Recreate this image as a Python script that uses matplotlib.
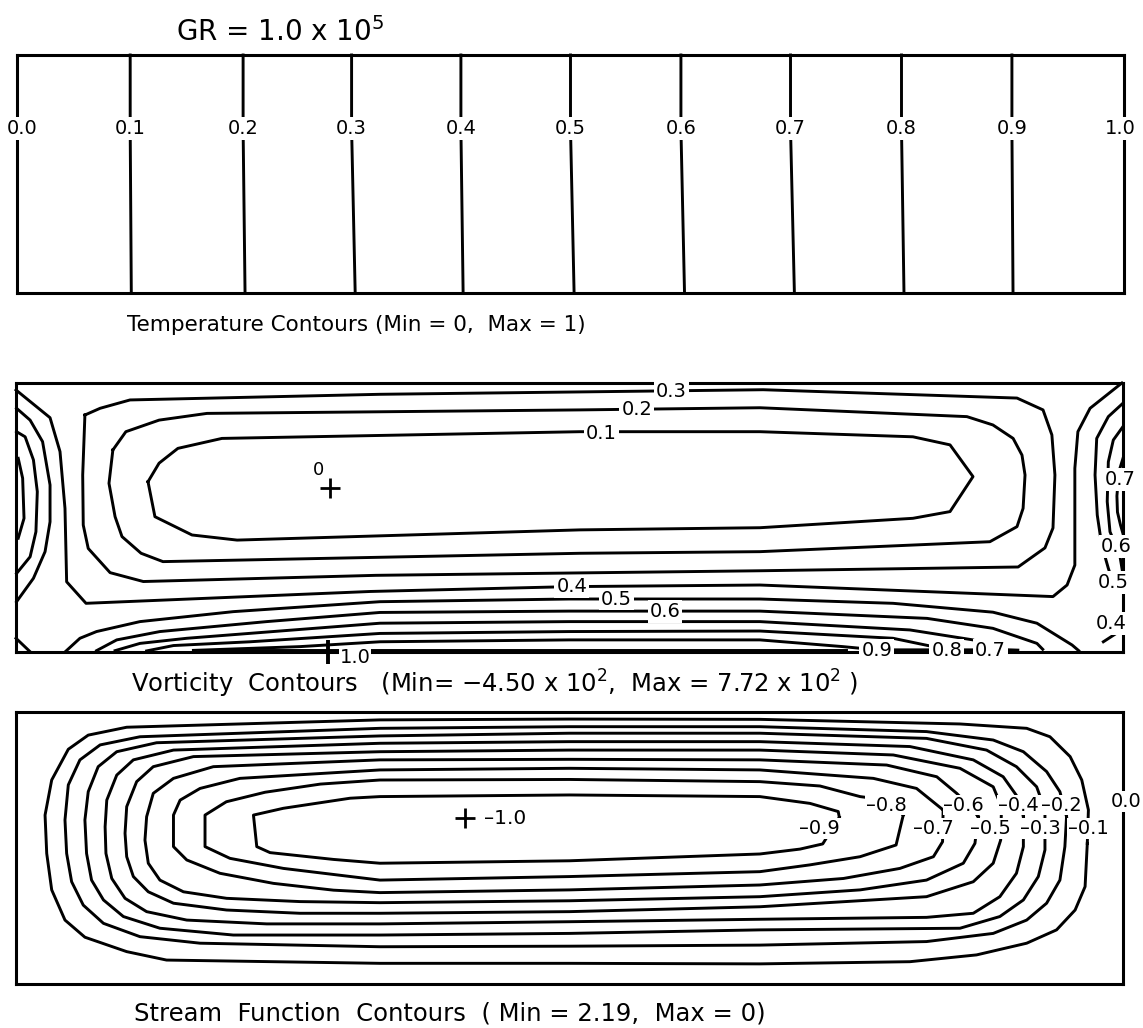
import matplotlib
matplotlib.use("Agg")
import matplotlib.pyplot as plt

W, H = 1143, 1028

# ---- temperature contours (cavity coordinates: x 0..4, y 0..1) ----
temp_labels = ["0.0", "0.1", "0.2", "0.3", "0.4", "0.5", "0.6", "0.7", "0.8", "0.9", "1.0"]
temp_x_top = [0.0, 0.409, 0.817, 1.209, 1.604, 2.000, 2.399, 2.795, 3.196, 3.595, 4.0]
temp_x_bot = [0.0, 0.413, 0.824, 1.222, 1.612, 2.013, 2.412, 2.809, 3.205, 3.599, 4.0]
temp_label_x = [0.02, 0.409, 0.817, 1.209, 1.604, 2.000, 2.399, 2.795, 3.196, 3.595, 3.985]

# ---- vorticity contours (scaled by max) ----
vort_01 = [(0.477, 0.633), (0.517, 0.702), (0.585, 0.757), (0.744, 0.794), (2.038, 0.819),
           (2.688, 0.819), (3.241, 0.800), (3.375, 0.770), (3.458, 0.652), (3.375, 0.522),
           (3.241, 0.497), (2.688, 0.462), (2.038, 0.454), (0.799, 0.416), (0.636, 0.435),
           (0.502, 0.503), (0.477, 0.633)]
vort_02 = [(0.350, 0.751), (0.397, 0.819), (0.517, 0.862), (0.690, 0.887), (2.038, 0.900),
           (2.688, 0.908), (3.436, 0.875), (3.530, 0.844), (3.603, 0.794), (3.635, 0.732),
           (3.646, 0.658), (3.639, 0.534), (3.617, 0.466), (3.519, 0.410), (2.688, 0.373),
           (2.038, 0.367), (0.531, 0.336), (0.452, 0.367), (0.383, 0.429), (0.358, 0.503),
           (0.336, 0.627), (0.350, 0.751)]
vort_03 = [(0.249, 0.881), (0.304, 0.906), (0.412, 0.937), (1.315, 0.958), (2.700, 0.975),
           (3.617, 0.944), (3.711, 0.900), (3.743, 0.807), (3.754, 0.658), (3.747, 0.461),
           (3.718, 0.387), (3.621, 0.316), (2.688, 0.302), (1.300, 0.285), (0.460, 0.262),
           (0.340, 0.295), (0.261, 0.385), (0.243, 0.472), (0.241, 0.658), (0.249, 0.881)]
vort_04 = [(0.000, 0.974), (0.123, 0.871), (0.159, 0.745), (0.177, 0.534), (0.183, 0.261),
           (0.253, 0.181), (1.280, 0.225), (2.000, 0.243), (2.688, 0.249), (3.747, 0.206),
           (3.798, 0.249), (3.826, 0.323), (3.826, 0.683), (3.837, 0.819), (3.881, 0.906),
           (3.996, 1.000)]
vort_04_left = [(0.000, 0.051), (0.051, 0.001)]
vort_04_right = [(3.929, 0.038), (3.995, 0.082)]
vort_05 = [(0.177, 0.000), (0.231, 0.051), (0.291, 0.076), (0.448, 0.113), (0.785, 0.150),
           (1.315, 0.187), (2.000, 0.197), (2.688, 0.197), (3.169, 0.181), (3.530, 0.148),
           (3.689, 0.107), (3.816, 0.026), (3.840, 0.005)]
vort_06 = [(0.291, 0.005), (0.364, 0.045), (0.520, 0.076), (0.906, 0.113), (1.315, 0.147),
           (2.000, 0.152), (2.688, 0.152), (3.292, 0.125), (3.530, 0.088), (3.689, 0.032),
           (3.710, 0.010)]
vort_07 = [(0.358, 0.005), (0.448, 0.032), (0.617, 0.051), (1.315, 0.107), (2.000, 0.113),
           (2.688, 0.113), (3.230, 0.082), (3.458, 0.045), (3.530, 0.010), (3.620, 0.007)]
vort_08 = [(0.472, 0.004), (0.569, 0.024), (0.846, 0.038), (1.315, 0.069), (2.000, 0.076),
           (2.688, 0.078), (3.169, 0.051), (3.314, 0.020), (3.360, 0.008), (3.480, 0.008)]
vort_09 = [(0.641, 0.006), (1.026, 0.020), (1.315, 0.038), (2.000, 0.045), (2.688, 0.045),
           (2.988, 0.020), (3.110, 0.008), (3.300, 0.008)]
vort_10 = [(0.700, 0.008), (3.000, 0.008)]
vort_05_right = [(4.000, 0.925), (3.947, 0.875), (3.905, 0.794), (3.899, 0.658), (3.907, 0.509),
                 (3.923, 0.398), (3.947, 0.311), (3.960, 0.270)]
vort_06_right = [(4.000, 0.838), (3.965, 0.788), (3.947, 0.707), (3.943, 0.559), (3.953, 0.447),
                 (3.963, 0.423), (3.990, 0.350), (3.998, 0.300)]
vort_07_right = [(4.000, 0.720), (3.985, 0.670), (3.978, 0.580), (3.980, 0.520), (3.991, 0.472),
                 (4.000, 0.440)]
vort_left_a = [(0.008, 0.720), (0.024, 0.646), (0.029, 0.497), (0.008, 0.423)]
vort_left_b = [(0.002, 0.819), (0.033, 0.800), (0.063, 0.714), (0.077, 0.596), (0.072, 0.447),
               (0.051, 0.354), (0.002, 0.292)]
vort_left_c = [(0.002, 0.906), (0.051, 0.862), (0.096, 0.782), (0.123, 0.621), (0.123, 0.484),
               (0.105, 0.373), (0.063, 0.274), (0.002, 0.187)]
vort_tags = [("0.3", 2.369, 0.968), ("0.2", 2.243, 0.900), ("0.1", 2.116, 0.811),
             ("0.4", 2.008, 0.243), ("0.5", 2.170, 0.197), ("0.6", 2.345, 0.150),
             ("0.9", 3.110, 0.007), ("0.8", 3.363, 0.007), ("0.7", 3.520, 0.007),
             ("0.7", 3.990, 0.640), ("0.6", 3.977, 0.392), ("0.5", 3.964, 0.257),
             ("0.4", 3.959, 0.107)]

# ---- stream function contours ----
psi_01 = [(3.871, 0.517), (3.875, 0.640), (3.851, 0.750), (3.809, 0.836), (3.736, 0.909),
          (3.652, 0.940), (3.411, 0.956), (2.688, 0.973), (2.000, 0.974), (1.315, 0.971),
          (0.400, 0.944), (0.261, 0.915), (0.189, 0.863), (0.129, 0.750), (0.105, 0.621),
          (0.111, 0.480), (0.129, 0.346), (0.177, 0.235), (0.249, 0.172), (0.400, 0.119),
          (0.544, 0.088), (1.315, 0.076), (2.000, 0.076), (2.688, 0.074), (3.230, 0.082),
          (3.471, 0.107), (3.652, 0.150), (3.760, 0.199), (3.827, 0.272), (3.863, 0.358),
          (3.871, 0.517)]
psi_02 = [(3.796, 0.615), (3.772, 0.707), (3.724, 0.781), (3.640, 0.854), (3.531, 0.897),
          (3.290, 0.928), (2.688, 0.946), (2.000, 0.946), (1.315, 0.940), (0.448, 0.909),
          (0.304, 0.879), (0.231, 0.824), (0.189, 0.732), (0.177, 0.603), (0.183, 0.480),
          (0.201, 0.376), (0.243, 0.290), (0.316, 0.223), (0.448, 0.174), (0.665, 0.150),
          (1.315, 0.137), (2.000, 0.139), (2.688, 0.143), (3.290, 0.156), (3.531, 0.186),
          (3.652, 0.235), (3.724, 0.297), (3.772, 0.382), (3.790, 0.505), (3.796, 0.615)]
psi_03 = [(3.718, 0.640), (3.688, 0.725), (3.615, 0.799), (3.507, 0.860), (3.290, 0.903),
          (2.688, 0.922), (2.000, 0.922), (1.315, 0.912), (0.508, 0.887), (0.364, 0.854),
          (0.297, 0.799), (0.261, 0.707), (0.249, 0.603), (0.255, 0.480), (0.273, 0.382),
          (0.316, 0.309), (0.388, 0.248), (0.520, 0.205), (0.785, 0.180), (1.315, 0.180),
          (2.000, 0.186), (2.688, 0.199), (3.411, 0.205), (3.555, 0.248), (3.640, 0.309),
          (3.694, 0.395), (3.718, 0.493), (3.718, 0.640)]
psi_04 = [(3.640, 0.615), (3.627, 0.676), (3.567, 0.762), (3.459, 0.824), (3.230, 0.873),
          (2.688, 0.891), (2.000, 0.891), (1.315, 0.885), (0.569, 0.860), (0.424, 0.824),
          (0.364, 0.768), (0.328, 0.676), (0.322, 0.578), (0.325, 0.480), (0.346, 0.388),
          (0.394, 0.315), (0.472, 0.266), (0.617, 0.235), (0.906, 0.221), (1.315, 0.221),
          (2.000, 0.229), (2.688, 0.238), (3.290, 0.245), (3.459, 0.260), (3.555, 0.321),
          (3.615, 0.407), (3.640, 0.505), (3.640, 0.615)]
psi_05 = [(3.561, 0.652), (3.531, 0.725), (3.411, 0.793), (3.170, 0.842), (2.688, 0.860),
          (2.000, 0.860), (1.315, 0.854), (0.641, 0.836), (0.496, 0.799), (0.436, 0.744),
          (0.400, 0.652), (0.394, 0.554), (0.400, 0.468), (0.424, 0.395), (0.478, 0.339),
          (0.569, 0.297), (0.761, 0.272), (1.026, 0.260), (1.315, 0.260), (2.000, 0.266),
          (2.688, 0.284), (3.290, 0.321), (3.459, 0.376), (3.531, 0.444), (3.558, 0.529),
          (3.561, 0.652)]
psi_06 = [(3.477, 0.615), (3.447, 0.652), (3.399, 0.701), (3.327, 0.762), (3.146, 0.805),
          (2.688, 0.824), (2.000, 0.826), (1.315, 0.824), (0.713, 0.799), (0.569, 0.756),
          (0.496, 0.701), (0.472, 0.615), (0.466, 0.529), (0.478, 0.444), (0.520, 0.382),
          (0.605, 0.339), (0.761, 0.315), (1.026, 0.303), (1.315, 0.299), (2.000, 0.306),
          (2.688, 0.321), (3.050, 0.346), (3.290, 0.382), (3.423, 0.444), (3.465, 0.517),
          (3.477, 0.615)]
psi_07 = [(3.350, 0.640), (3.254, 0.719), (3.098, 0.756), (2.688, 0.787), (2.000, 0.793),
          (1.315, 0.787), (0.809, 0.756), (0.665, 0.719), (0.593, 0.676), (0.569, 0.621),
          (0.569, 0.505), (0.617, 0.456), (0.737, 0.407), (0.930, 0.370), (1.147, 0.345),
          (1.315, 0.336), (2.000, 0.346), (2.688, 0.364), (2.990, 0.388), (3.194, 0.425),
          (3.315, 0.468), (3.348, 0.523), (3.350, 0.640)]
psi_08 = [(3.206, 0.621), (3.146, 0.676), (3.050, 0.689), (2.905, 0.728), (2.688, 0.744),
          (2.000, 0.752), (1.315, 0.750), (1.100, 0.735), (0.900, 0.705), (0.760, 0.670),
          (0.683, 0.621), (0.683, 0.505), (0.773, 0.462), (0.966, 0.425), (1.315, 0.382),
          (2.000, 0.395), (2.688, 0.413), (2.869, 0.438), (3.050, 0.468), (3.180, 0.511),
          (3.206, 0.621)]
psi_09 = [(2.975, 0.613), (2.971, 0.634), (2.869, 0.664), (2.688, 0.689), (2.000, 0.695),
          (1.315, 0.689), (1.207, 0.683), (0.966, 0.646), (0.858, 0.621), (0.870, 0.505),
          (0.918, 0.483), (1.147, 0.458), (1.315, 0.444), (2.000, 0.453), (2.688, 0.478),
          (2.833, 0.496), (2.915, 0.515), (2.975, 0.613)]
psi_tags = [("\u20130.9", 2.903, 0.572), ("\u20130.8", 3.144, 0.658), ("\u20130.7", 3.315, 0.572),
            ("\u20130.6", 3.425, 0.658), ("\u20130.5", 3.522, 0.572), ("\u20130.4", 3.622, 0.658),
            ("\u20130.3", 3.700, 0.572), ("\u20130.2", 3.778, 0.658), ("\u20130.1", 3.874, 0.572),
            ("0.0", 4.013, 0.670)]

LW = 2.1


def px_rect(l, t, r, b):
    return [l / W, 1 - b / H, (r - l) / W, (b - t) / H]


def panel(fig, rect):
    ax = fig.add_axes(rect)
    ax.set_xlim(0, 4)
    ax.set_ylim(0, 1)
    ax.set_xticks([])
    ax.set_yticks([])
    for s in ax.spines.values():
        s.set_linewidth(2.2)
    return ax


def line(ax, pts):
    xs = [p[0] for p in pts]
    ys = [p[1] for p in pts]
    ax.plot(xs, ys, color="black", lw=LW, clip_on=False, zorder=3)


def tag(ax, x, y, s, size=14, pad=0.1):
    ax.text(x, y, s, ha="center", va="center", fontsize=size, zorder=6, clip_on=False,
            bbox=dict(boxstyle="square,pad=%g" % pad, fc="white", ec="none"))


fig = plt.figure(figsize=(W / 100, H / 100), dpi=100)
fig.patch.set_facecolor("white")

# temperature
ax1 = panel(fig, px_rect(17, 55, 1124, 293))
for lab, xt, xb, xl in zip(temp_labels, temp_x_top, temp_x_bot, temp_label_x):
    line(ax1, [(xt, 1.0), (xt, 0.69), (xb, 0.0)])
    tag(ax1, xl, 0.69, lab, 14)

# vorticity
ax2 = panel(fig, px_rect(16, 383, 1123, 652))
for c in [vort_01, vort_02, vort_03, vort_04, vort_04_left, vort_04_right, vort_05, vort_06,
          vort_07, vort_08, vort_09, vort_10, vort_05_right, vort_06_right, vort_07_right,
          vort_left_a, vort_left_b, vort_left_c]:
    line(ax2, c)
for s, x, y in vort_tags:
    tag(ax2, x, y, s, 14)
ax2.plot(1.135, 0.609, marker="+", ms=15, mew=2.0, color="black", zorder=6)
ax2.text(1.092, 0.675, "0", ha="center", va="center", fontsize=13, zorder=6)
ax2.plot(1.128, 0.0, marker="+", ms=17, mew=2.8, color="black", zorder=7, clip_on=False)
ax2.text(1.225, -0.02, "1.0", ha="center", va="center", fontsize=14, zorder=7, clip_on=False,
         bbox=dict(boxstyle="square,pad=0.05", fc="white", ec="none"))

# stream function
ax3 = panel(fig, px_rect(16, 712, 1123, 984))
for c in [psi_01, psi_02, psi_03, psi_04, psi_05, psi_06, psi_07, psi_08, psi_09]:
    line(ax3, c)
for s, x, y in psi_tags:
    tag(ax3, x, y, s, 14, 0.05)
ax3.plot(1.622, 0.609, marker="+", ms=14, mew=2.0, color="black", zorder=6)
ax3.text(1.767, 0.609, "\u20131.0", ha="center", va="center", fontsize=14.5, zorder=6)

fig.text(280 / W, 1 - 32 / H, "GR = 1.0 x 10$^5$", ha="center", va="center", fontsize=20)
fig.text(356 / W, 1 - 325 / H, "Temperature Contours (Min = 0,  Max = 1)",
         ha="center", va="center", fontsize=15.5)
fig.text(495 / W, 1 - 684 / H,
         "Vorticity  Contours   (Min= \u22124.50 x 10$^2$,  Max = 7.72 x 10$^2$ )",
         ha="center", va="center", fontsize=17.5)
fig.text(450 / W, 1 - 1013 / H, "Stream  Function  Contours  ( Min = 2.19,  Max = 0)",
         ha="center", va="center", fontsize=17.5)

fig.savefig("out.png", dpi=100, facecolor="white")
